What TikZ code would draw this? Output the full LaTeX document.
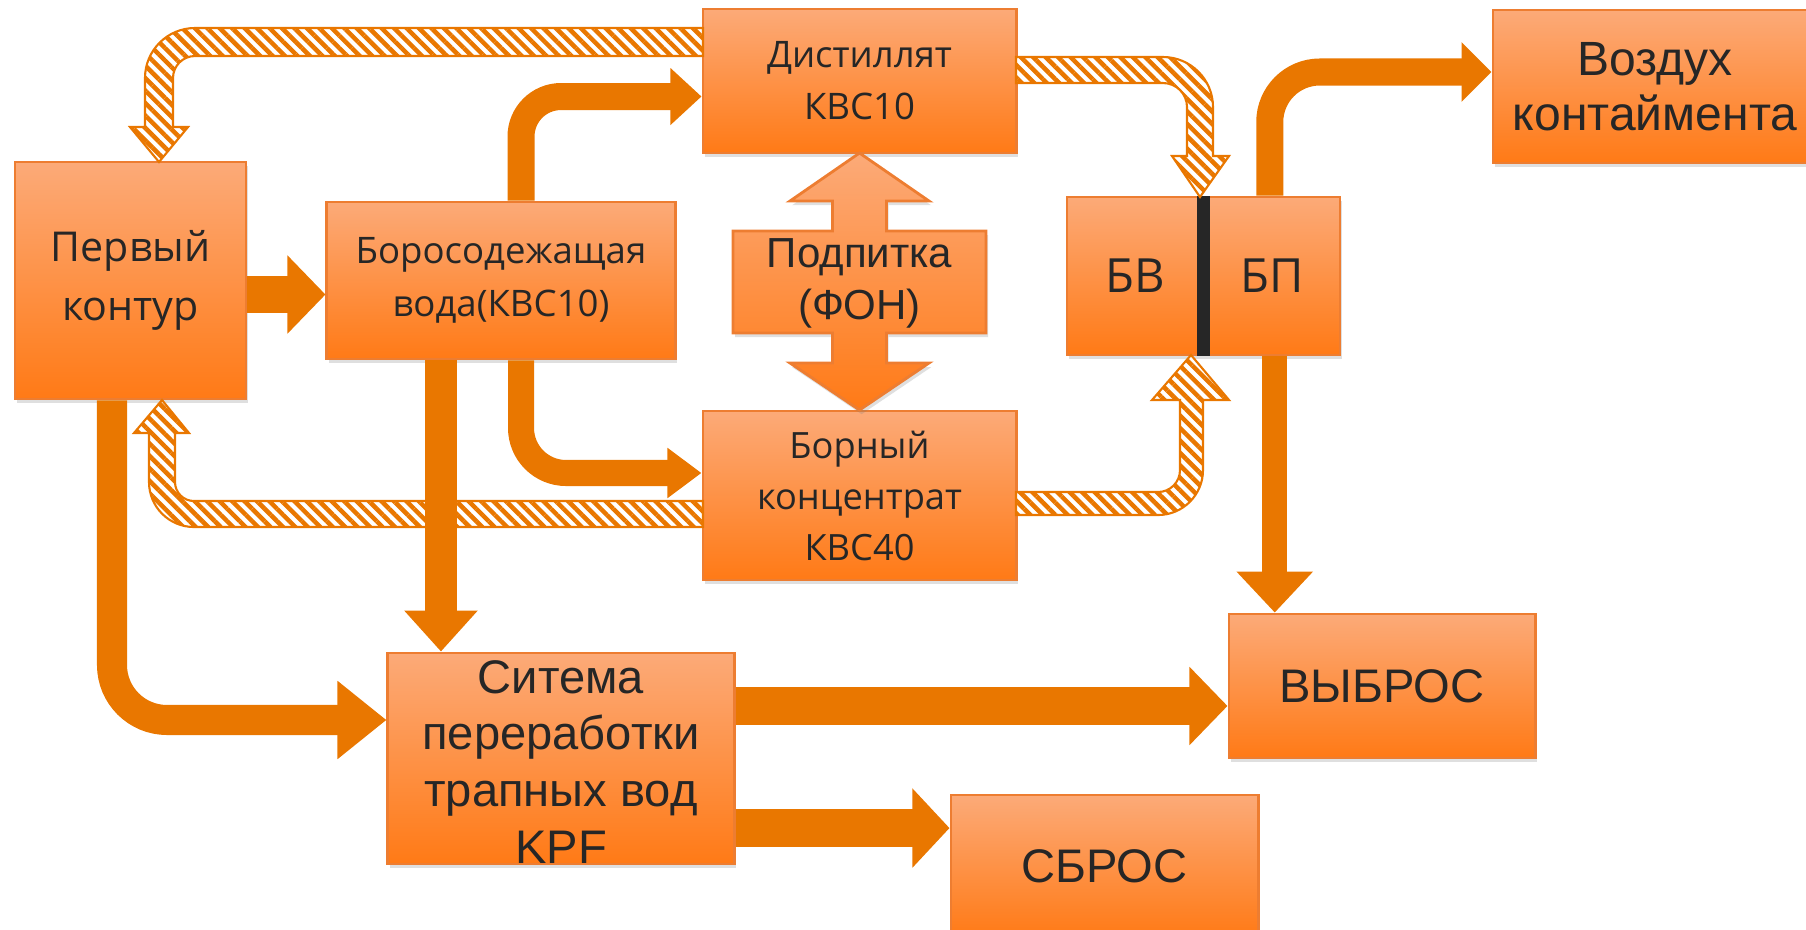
\documentclass[tikz,border=0pt]{standalone}
\usepackage{fontspec}
\setmainfont{Open Sans}
\newfontfamily\arialfont{Liberation Sans}
\usepackage{tikz}
\usetikzlibrary{arrows.meta}
\usetikzlibrary{patterns.meta}
\usetikzlibrary{shadows}

\definecolor{arr}{RGB}{233,119,0}
\definecolor{rim}{RGB}{237,125,49}
\definecolor{boxtop}{RGB}{252,170,120}
\definecolor{boxbot}{RGB}{255,122,22}
\definecolor{ink}{RGB}{38,38,38}

\tikzset{
  orangefill/.style={draw=rim, line width=0.8pt, top color=boxtop, bottom color=boxbot,
    drop shadow={opacity=0.25, shadow xshift=0.6pt, shadow yshift=-1.2pt}},
  box/.style={orangefill, rectangle, text=ink, align=center, inner sep=0pt},
  flow/.style={draw=arr, line width=#1},
  hatch/.style={draw=arr, line width=0.6pt, preaction={fill=white},
    pattern={Lines[angle=-45, distance=0.088cm, line width=0.045cm]}, pattern color=arr},
}

\begin{document}
\begin{tikzpicture}[x=0.01cm, y=-0.01cm]
\useasboundingbox (0,0) rectangle (1806,929);
% boxes
\node[box, minimum width=2.31cm, minimum height=2.37cm, font=\fontsize{11.7}{16.8}\selectfont] (perv) at (130.5,280.5) {Первый\\контур};
\node[box, minimum width=3.48cm, minimum height=1.57cm, font=\fontsize{10.4}{15.1}\selectfont] (boro) at (501,280.5) {Боросодежащая\\вода(КВС10)};
\node[box, minimum width=3.13cm, minimum height=1.44cm, font=\fontsize{10.4}{14.8}\selectfont] (dist) at (859.5,81) {Дистиллят\\КВС10};
\node[box, minimum width=3.13cm, minimum height=1.69cm, font=\fontsize{10.3}{14.5}\selectfont] (bor) at (859.5,495.5) {Борный\\концентрат\\КВС40};
\node[box, minimum width=1.365cm, minimum height=1.58cm, font=\fontsize{13.4}{16}\selectfont] (bv) at (1135.25,276) {БВ};
\node[box, minimum width=1.365cm, minimum height=1.58cm, font=\fontsize{13.4}{16}\selectfont] (bp) at (1271.75,276) {БП};
\node[box, minimum width=3.24cm, minimum height=1.53cm, font=\arialfont\fontsize{13.66}{15.6}\selectfont] (vozd) at (1655,86.5) {Воздух\\контаймента};
\node[box, minimum width=3.06cm, minimum height=1.44cm, font=\arialfont\fontsize{13.4}{16}\selectfont] (vybr) at (1382,686) {ВЫБРОС};
\node[box, minimum width=3.07cm, minimum height=1.42cm, font=\arialfont\fontsize{13.4}{16}\selectfont] (sbros) at (1104.5,866) {СБРОС};
\node[box, minimum width=3.46cm, minimum height=2.11cm] (sist) at (561,758.5) {};
\node[text=ink, align=center, inner sep=0pt, font=\arialfont\fontsize{13.4}{16.2}\selectfont] (sisttxt) at (561,762) {Ситема\\переработки\\трапных вод\\KPF};
% divider between БВ and БП
\fill[ink] ([xshift=-0.075cm]bv.north east) rectangle ([xshift=0.075cm]bp.south west);
% make-up double arrow
\path[orangefill] (859.5,153) -- (929,201) -- (886.5,201) -- (886.5,231) -- (986,231) -- (986,333) -- (886.5,333) -- (886.5,363) -- (929,363) -- (859.5,410) -- (790,363) -- (832.5,363) -- (832.5,333) -- (733,333) -- (733,231) -- (832.5,231) -- (832.5,201) -- (790,201) -- cycle;
\node[text=ink, align=center, inner sep=0pt, font=\arialfont\fontsize{11.95}{15}\selectfont] (podp) at (859.5,283.5) {Подпитка\\(ФОН)};
% hatched arrows
\path[hatch] (703,28) -- (195,28) arc[start angle=270, end angle=180, radius=50] -- (145,127) -- (130,127) -- (159,162) -- (188,127) -- (173,127) -- (173,78) arc[start angle=180, end angle=270, radius=22] -- (703,56) -- cycle;
\path[hatch] (1016,57) -- (1163,57) arc[start angle=270, end angle=360, radius=50] -- (1213,156) -- (1229,156) -- (1200,197) -- (1172,156) -- (1187,156) -- (1187,107) arc[start angle=0, end angle=-90, radius=24] -- (1016,83) -- cycle;
\path[hatch] (703,527) -- (194,527) arc[start angle=90, end angle=180, radius=45] -- (149,433) -- (134,433) -- (162,400) -- (189,433) -- (175,433) -- (175,482) arc[start angle=180, end angle=90, radius=19] -- (703,501) -- cycle;
\path[hatch] (1016,515) -- (1158,515) arc[start angle=90, end angle=0, radius=45] -- (1203,400) -- (1229,400) -- (1191,355) -- (1152,400) -- (1180,400) -- (1180,470) arc[start angle=0, end angle=90, radius=22] -- (1016,492) -- cycle;
% solid arrows
\draw[flow=0.37cm, -{Triangle[length=0.38cm, width=0.76cm]}] ([yshift=-0.14cm]perv.east) -- ([yshift=-0.14cm]perv.east -| boro.west);
\draw[flow=0.27cm, rounded corners=0.4cm, -{Triangle[length=0.31cm, width=0.55cm]}] ([xshift=0.2cm]boro.north) |- ([yshift=-0.155cm]dist.west);
\draw[flow=0.26cm, rounded corners=0.45cm, -{Triangle[length=0.34cm, width=0.48cm]}] ([xshift=0.2cm]boro.south) |- ([yshift=0.225cm]bor.west);
\draw[flow=0.32cm, -{Triangle[length=0.41cm, width=0.71cm]}] ([xshift=-0.6cm]boro.south) -- ([xshift=-0.6cm]boro.south |- sist.north);
\draw[flow=0.30cm, rounded corners=0.55cm, -{Triangle[length=0.49cm, width=0.75cm]}] ([xshift=-0.185cm]perv.south) |- ([yshift=0.385cm]sist.west);
\draw[flow=0.38cm, -{Triangle[length=0.38cm, width=0.76cm]}] ([yshift=0.525cm]sist.east) -- ([yshift=0.525cm]sist.east -| vybr.west);
\draw[flow=0.38cm, -{Triangle[length=0.37cm, width=0.77cm]}] ([yshift=-0.695cm]sist.east) -- ([yshift=-0.695cm]sist.east -| sbros.west);
\draw[flow=0.25cm, -{Triangle[length=0.41cm, width=0.74cm]}] ([xshift=0.03cm]bp.south) -- ([xshift=0.03cm]bp.south |- vybr.north);
\draw[flow=0.27cm, rounded corners=0.5cm, -{Triangle[length=0.30cm, width=0.58cm]}] ([xshift=-0.02cm]bp.north) |- ([yshift=0.145cm]vozd.west);
\end{tikzpicture}
\end{document}
